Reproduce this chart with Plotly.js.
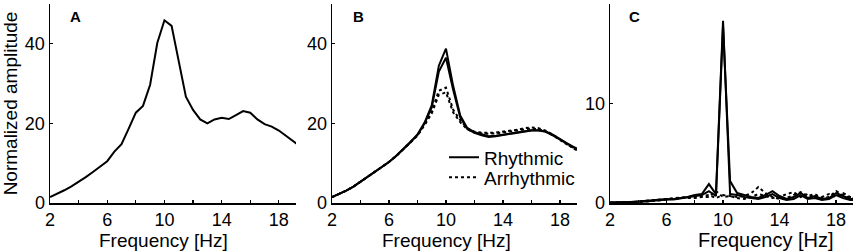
<!DOCTYPE html>
<html>
<head>
<meta charset="utf-8">
<script src="https://cdn.plot.ly/plotly-3.0.1.min.js"></script>
<style>html,body{margin:0;padding:0;background:#fff;}#chart{width:856px;height:252px;}</style>
</head>
<body>
<div id="chart"></div>
<script>
// Frequency grid (Hz)
const freq = [2,2.5,3,3.5,4,4.5,5,5.5,6,6.5,7,7.5,8,8.5,9,9.5,10,10.5,11,11.5,12,12.5,13,13.5,14,14.5,15,15.5,16,16.5,17,17.5,18,18.5,19,19.5];

// Panel A
const ampA = [1.5,2.3,3.2,4.2,5.3,6.5,7.8,9.1,10.5,12.9,14.8,18.7,22.7,24.4,29.7,40.2,45.9,44.5,35.5,26.7,23.4,21,20,21,21.4,21.1,22.1,23.1,22.7,21,19.8,19.2,18.2,16.8,15.6,14.2];

// Panel B
const rhythB1 = [1.5,2.2,3.1,4.1,5.3,6.5,7.8,9.0,10.3,11.8,13.5,15.2,17.2,20.2,24.5,34.5,38.8,29.5,22,18.8,17.8,17.2,16.8,16.9,17.2,17.5,17.8,18.1,18.3,18.3,18,17.2,16,15,14,13.2];
const rhythB2 = [1.5,2.2,3.1,4.1,5.3,6.5,7.8,9.0,10.3,11.8,13.5,15.2,17.1,20.0,24,33,36.5,28.5,21.5,18.6,17.6,17,16.6,16.8,17.1,17.4,17.7,18,18.2,18.2,17.9,17.0,15.9,14.9,13.9,13];
const arrhyB1 = [1.5,2.2,3.1,4.1,5.3,6.5,7.8,9.0,10.3,11.8,13.5,15.2,17,19.8,23,28.2,29,23.5,20.8,18.8,17.9,17.7,17.6,17.7,17.9,18.1,18.4,18.8,19,18.8,18.2,17.2,16,14.8,13.6,12.8];
const arrhyB2 = [1.5,2.2,3.1,4.1,5.3,6.5,7.8,9.0,10.3,11.8,13.5,15.2,16.9,19.6,22.5,27.2,27.8,22.8,20.3,18.5,17.7,17.5,17.4,17.5,17.7,17.9,18.2,18.5,18.7,18.5,18,17,15.8,14.7,13.8,13];

// Panel C
const rhythC1 = [0.05,0.05,0.08,0.1,0.12,0.15,0.2,0.25,0.3,0.4,0.5,0.6,0.8,0.9,1.9,0.9,18.3,0.9,0.8,0.6,0.5,0.4,0.6,0.9,0.5,0.3,0.4,0.8,0.4,0.5,0.3,0.4,0.8,0.5,0.3,0.3];
const rhythC2 = [0.05,0.05,0.08,0.1,0.15,0.2,0.25,0.3,0.4,0.35,0.45,0.55,0.7,0.8,1.2,0.7,17.8,2.2,1.0,0.8,0.6,0.5,0.8,1.2,0.7,0.4,0.6,1.0,0.5,0.7,0.4,0.5,1.0,0.7,0.4,0.4];
const arrhyC1 = [0.02,0.03,0.05,0.08,0.15,0.2,0.3,0.35,0.4,0.5,0.55,0.6,0.6,0.7,0.8,0.5,0.8,0.7,0.6,0.7,1.0,1.6,1.0,0.6,0.4,0.5,0.8,1.1,0.7,0.9,0.5,0.6,1.2,0.8,0.5,0.4];
const arrhyC2 = [0.02,0.03,0.05,0.08,0.1,0.15,0.2,0.3,0.3,0.4,0.5,0.5,0.5,0.6,0.6,1.2,0.6,0.7,0.5,0.4,0.6,0.9,0.7,0.5,0.6,0.9,1.1,0.6,0.9,0.5,0.6,0.9,0.6,1.0,0.6,0.4];

// Ticks and labels
const xTickVals = [2,4,6,8,10,12,14,16,18];
const xTickText = ['2','','6','','10','','14','','18'];
const yTicksAB = [0,20,40];
const yTicksC = [0,10];
const panelLabels = ['A','B','C'];
const legendNames = ['Rhythmic','Arrhythmic'];
const xTitle = 'Frequency [Hz]';
const yTitle = 'Normalized amplitude';

const FONT = 'Liberation Sans, Arial, Helvetica, sans-serif';
const solid = {color:'#000', width:2, dash:'solid'};
const dotted = {color:'#000', width:2, dash:'dot'};

const traces = [
  {x:freq, y:ampA, xaxis:'x', yaxis:'y', mode:'lines', line:solid, showlegend:false},
  {x:freq, y:rhythB1, xaxis:'x2', yaxis:'y2', mode:'lines', line:solid, name:legendNames[0], showlegend:true, legend:'legend'},
  {x:freq, y:rhythB2, xaxis:'x2', yaxis:'y2', mode:'lines', line:solid, showlegend:false},
  {x:freq, y:arrhyB1, xaxis:'x2', yaxis:'y2', mode:'lines', line:dotted, name:legendNames[1], showlegend:true, legend:'legend2'},
  {x:freq, y:arrhyB2, xaxis:'x2', yaxis:'y2', mode:'lines', line:dotted, showlegend:false},
  {x:freq, y:rhythC1, xaxis:'x3', yaxis:'y3', mode:'lines', line:solid, showlegend:false},
  {x:freq, y:rhythC2, xaxis:'x3', yaxis:'y3', mode:'lines', line:solid, showlegend:false},
  {x:freq, y:arrhyC1, xaxis:'x3', yaxis:'y3', mode:'lines', line:dotted, showlegend:false},
  {x:freq, y:arrhyC2, xaxis:'x3', yaxis:'y3', mode:'lines', line:dotted, showlegend:false}
];

function xax(domain, anchor){
  return {domain:domain, anchor:anchor, range:[2,19.2], showline:true, linecolor:'#000', linewidth:1.5,
    ticks:'inside', ticklen:3, tickwidth:1.2, tickcolor:'#000', tickvals:xTickVals, ticktext:xTickText,
    showgrid:false, zeroline:false, tickfont:{size:18, family:FONT, color:'#000'}};
}
function yax(anchor, range, tv, title){
  const o = {anchor:anchor, domain:[0,1], range:range, showline:true, linecolor:'#000', linewidth:1.5,
    ticks:'inside', ticklen:3, tickwidth:1.2, tickcolor:'#000', tickvals:tv,
    showgrid:false, zeroline:false, tickfont:{size:18, family:FONT, color:'#000'}};
  if (title) o.title = {text:title, font:{size:19, family:FONT, color:'#000'}, standoff:5};
  return o;
}

const W = 803, H = 199, L = 50, B = 203;
const px = v => (v - L) / W;
const py = v => (B - v) / H;

const dA=[0,0.3064], dB=[0.3512,0.6563], dC=[0.6974,1];
const legendBase = {x:px(444), xanchor:'left', yanchor:'top', bgcolor:'rgba(0,0,0,0)',
    font:{size:19, family:FONT, color:'#000'}, itemwidth:30};

const layout = {
  width:856, height:252,
  margin:{l:50, r:3, t:4, b:49},
  paper_bgcolor:'#fff', plot_bgcolor:'#fff',
  font:{family:FONT, color:'#000'},
  xaxis:xax(dA,'y'), yaxis:yax('x',[0,50],yTicksAB,yTitle),
  xaxis2:xax(dB,'y2'), yaxis2:yax('x2',[0,50],yTicksAB,null),
  xaxis3:xax(dC,'y3'), yaxis3:yax('x3',[0,20],yTicksC,null),
  showlegend:true,
  legend:Object.assign({}, legendBase, {y:py(138.3)}),
  legend2:Object.assign({}, legendBase, {y:py(158.3)}),
  annotations:[
    {text:'<b>'+panelLabels[0]+'</b>', xref:'paper', yref:'paper', x:px(75), y:py(16), xanchor:'center', yanchor:'middle', showarrow:false, font:{size:15, family:FONT}},
    {text:'<b>'+panelLabels[1]+'</b>', xref:'paper', yref:'paper', x:px(358), y:py(16), xanchor:'center', yanchor:'middle', showarrow:false, font:{size:15, family:FONT}},
    {text:'<b>'+panelLabels[2]+'</b>', xref:'paper', yref:'paper', x:px(634), y:py(16), xanchor:'center', yanchor:'middle', showarrow:false, font:{size:15, family:FONT}},
    {text:xTitle, xref:'paper', yref:'paper', x:px(163.5), y:py(240), xanchor:'center', yanchor:'middle', showarrow:false, font:{size:19, family:FONT}},
    {text:xTitle, xref:'paper', yref:'paper', x:px(446), y:py(240), xanchor:'center', yanchor:'middle', showarrow:false, font:{size:19, family:FONT}},
    {text:xTitle, xref:'paper', yref:'paper', x:px(766), y:py(240), xanchor:'center', yanchor:'middle', showarrow:false, font:{size:20, family:FONT}}
  ]
};

Plotly.newPlot('chart', traces, layout, {displayModeBar:false, staticPlot:true});
</script>
</body>
</html>
